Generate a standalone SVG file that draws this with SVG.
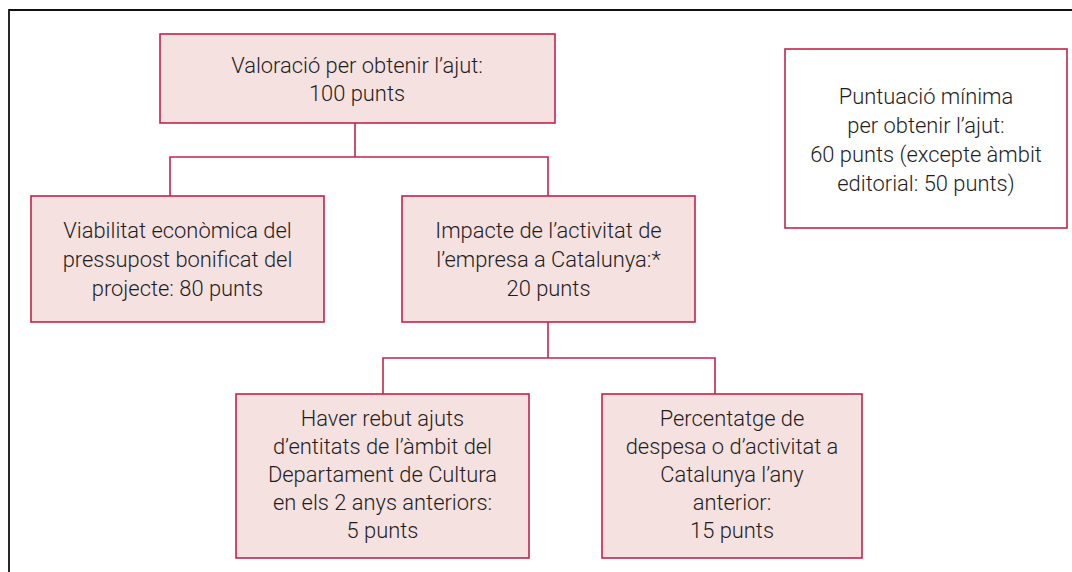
<svg xmlns="http://www.w3.org/2000/svg" width="1072" height="572" viewBox="0 0 1072 572">
<style>
.box{fill:#f5e1e0;stroke:#c4234c;stroke-width:1.6}
.wbox{fill:#ffffff;stroke:#c4234c;stroke-width:1.6}
.conn{fill:none;stroke:#c4234c;stroke-width:1.6}
.frame{fill:none;stroke:#111111;stroke-width:1.8}
text{font-family:Roboto,"Liberation Sans",Arial,sans-serif;font-weight:300;font-size:21.9px;fill:#1e1e1e;text-anchor:middle}
</style>
<rect width="1072" height="572" fill="#ffffff"/>
<path class="frame" d="M9,572 V10 H1072"/>
<g id="connectors">
<path class="conn" d="M355,123 V157"/>
<path class="conn" d="M170,196 V157 H548 V196"/>
<path class="conn" d="M548,322 V358"/>
<path class="conn" d="M383,394 V358 H715 V394"/>
</g>
<g id="n-total">
<rect class="box" x="160" y="34" width="395" height="89"/>
<text x="357" y="72.5">Valoració per obtenir l’ajut:</text>
<text x="357" y="100.5">100 punts</text>
</g>
<g id="n-viabilitat">
<rect class="box" x="31" y="196" width="293" height="126"/>
<text x="177.5" y="237.5">Viabilitat econòmica del</text>
<text x="177.5" y="266.5">pressupost bonificat del</text>
<text x="177.5" y="295.5">projecte: 80 punts</text>
</g>
<g id="n-impacte">
<rect class="box" x="402" y="196" width="293" height="126"/>
<text x="548.5" y="237.5">Impacte de l’activitat de</text>
<text x="548.5" y="266.5">l’empresa a Catalunya:*</text>
<text x="548.5" y="295.5">20 punts</text>
</g>
<g id="n-ajuts">
<rect class="box" x="236" y="394" width="293" height="164"/>
<text x="382.5" y="425.5">Haver rebut ajuts</text>
<text x="382.5" y="453.5">d’entitats de l’àmbit del</text>
<text x="382.5" y="481.5">Departament de Cultura</text>
<text x="382.5" y="509.5">en els 2 anys anteriors:</text>
<text x="382.5" y="537.5">5 punts</text>
</g>
<g id="n-percentatge">
<rect class="box" x="602" y="394" width="260" height="164"/>
<text x="732" y="425.5">Percentatge de</text>
<text x="732" y="453.5">despesa o d’activitat a</text>
<text x="732" y="481.5">Catalunya l’any</text>
<text x="732" y="509.5">anterior:</text>
<text x="732" y="537.5">15 punts</text>
</g>
<g id="n-minima">
<rect class="wbox" x="785" y="49" width="282" height="179"/>
<text x="926" y="104">Puntuació mínima</text>
<text x="926" y="133">per obtenir l’ajut:</text>
<text x="926" y="162">60 punts (excepte àmbit</text>
<text x="926" y="191">editorial: 50 punts)</text>
</g>
</svg>
